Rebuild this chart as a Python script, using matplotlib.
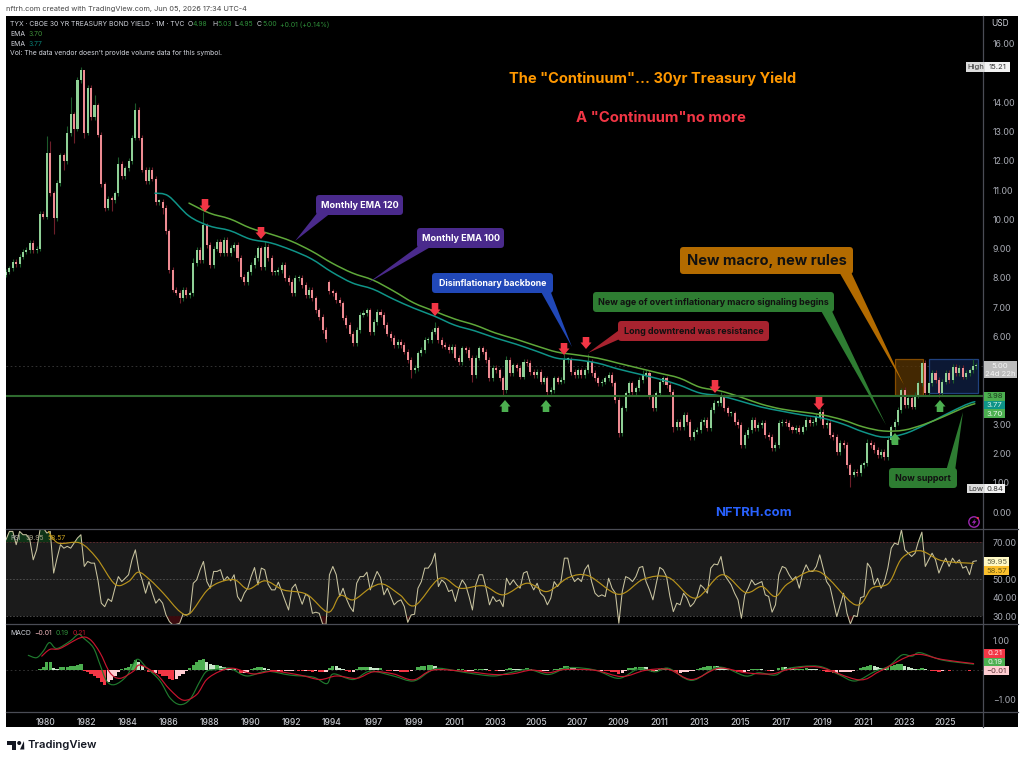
import numpy as np
import matplotlib
matplotlib.use("Agg")
import matplotlib.pyplot as plt
from matplotlib.patches import FancyBboxPatch, Polygon, Rectangle, Circle, PathPatch
from matplotlib.path import Path

plt.rcParams['font.family'] = ['Inter', 'DejaVu Sans']

W, H = 1024, 762

# 30-year yield, one candle per two months; first candle sits at bar -23.5
closes = [8.21,8.33,8.56,8.48,8.73,8.90,8.96,9.21,8.95,9.0,
 10.2,10.1,12.27,10.9,10.05,11.25,12.2,12.0,12.96,13.6,
 13.1,14.77,15.1,12.97,14.5,13.5,13.9,12.9,11.2,10.4,
 10.7,10.67,10.9,11.9,11.47,11.75,12.0,12.8,13.75,12.8,
 11.7,11.3,11.7,11.4,10.6,10.6,10.4,9.6,8.27,7.6,
 7.5,7.3,7.6,7.42,7.48,8.5,8.96,8.6,9.8,9.13,
 8.44,9.0,9.23,8.85,9.3,8.85,9.03,9.13,8.68,8.04,
 7.86,8.2,8.44,8.68,9.02,8.38,9.06,8.68,8.2,8.2,
 8.27,8.44,8.0,7.86,7.48,8.0,8.0,7.76,7.42,7.6,
 7.3,6.9,6.67,6.22,5.9,7.55,7.48,7.25,7.14,6.64,
 6.39,6.1,5.77,6.22,6.74,6.8,6.9,6.15,6.5,6.84,
 6.74,6.39,6.1,5.95,5.71,5.82,5.71,5.48,5.2,4.85,
 4.92,5.43,5.54,5.88,5.88,6.16,6.28,5.88,5.71,5.65,
 5.54,5.65,5.27,5.13,5.6,5.54,5.27,4.68,5.27,5.6,
 5.48,5.2,4.57,4.92,4.85,4.57,4.17,5.2,4.75,5.02,
 4.92,4.63,5.13,5.09,4.79,4.68,4.79,4.45,4.57,4.11,
 4.17,4.57,4.45,4.51,5.2,5.2,4.79,4.68,4.85,4.68,
 4.85,5.13,4.75,4.57,4.4,4.45,4.57,4.68,4.4,3.83,
 2.7,3.55,4.06,4.4,4.1,4.23,4.51,4.68,4.75,3.94,
 3.55,4.06,4.45,4.57,4.34,4.1,2.9,3.08,2.9,3.32,
 3.08,2.56,2.74,2.8,3.08,3.15,2.87,3.49,3.73,3.73,
 3.93,3.55,3.38,3.38,3.08,2.97,2.29,2.63,2.8,3.15,
 2.87,2.97,3.04,2.63,2.56,2.19,2.29,3.04,3.08,3.04,
 2.9,2.8,2.87,2.74,2.9,3.15,3.04,3.08,3.25,3.42,
 2.97,3.04,2.63,2.56,2.05,2.36,2.29,1.6,1.27,1.37,
 1.33,1.6,1.67,2.36,2.29,2.12,1.95,2.05,1.88,2.46,
 2.9,3.08,3.49,4.17,3.66,3.9,3.6,4.0,4.4,5.09,
 4.06,4.4,4.75,4.51,4.06,4.45,4.75,4.51,4.96,4.75,
 4.92,4.63,4.75,4.85,4.99,5.0]

# Candles whose wicks stand out from the usual short ones
long_highs = {12:12.85,13:12.7,18:13.2,19:14.2,22:15.21,23:14.8,26:14.25,33:12.15,38:13.97,
              55:8.7,58:10.26,76:9.25,126:6.5,147:5.33,164:5.4,171:5.4,187:4.85,210:4.1,
              239:3.6,253:2.5,263:4.24,269:5.13,284:5.23}
long_lows = {14:9.5,17:11.7,20:12.6,23:12.8,29:10.3,31:10.3,46:10.2,51:7.15,94:5.8,119:4.57,
             137:4.45,146:4.0,159:3.98,180:2.56,196:2.75,216:2.2,225:2.1,248:0.84,274:3.93}
gap_opens = {95: 7.85}

# Exponential averages on the monthly closes
ema_bars = [84,96,108,120,132,144,156,168,180,192,204,216,228,240,252,264,276,288,300,312,
            324,336,348,360,372,384,396,408,420,432,444,456,468,480,492,504,516,528,540,545.6]
ema100_head_bars = [64,72]
ema100_head = [10.9,10.80]
ema100 = [10.12,9.78,9.62,9.33,9.2,8.96,8.65,8.2,7.83,7.62,7.28,6.97,6.70,6.39,6.19,5.95,5.74,5.5,5.26,5.2,
          5.09,4.89,4.72,4.55,4.34,4.07,3.97,3.79,3.59,3.45,3.32,3.21,3.01,2.74,2.56,2.67,2.97,3.32,3.66,3.77]
ema120 = [10.56,10.22,10.02,9.71,9.5,9.26,8.92,8.51,8.17,7.93,7.56,7.15,6.87,6.6,6.39,6.12,5.91,5.68,5.47,5.37,
          5.26,5.09,4.92,4.75,4.58,4.27,4.14,3.93,3.69,3.52,3.42,3.32,3.15,2.91,2.77,2.8,3.0,3.28,3.59,3.70]
support_level = 3.98
last_price = 5.00

# RSI, same two-month spacing as the candles
rsi = [71.4,75.9,75.9,68.7,75.9,74.1,74.1,71.4,60.5,65.9,76.8,77.7,75,75.9,53.3,61.4,68.7,66.8,67.8,66.8,
 69.6,72.3,74.1,56.9,59.6,58.7,58.7,49.6,37,35.1,39.3,37.9,45.1,51.4,48.7,50.5,52.4,60.5,65.9,55.1,
 49.6,42.4,48.7,42.4,37,39.3,37,30.6,27,25.2,25.5,26.1,31,30.6,31.5,47.8,49.6,55.1,59.6,48.7,
 45.1,54.2,54.2,55.1,49.1,51.4,49.1,52.4,40.6,37.9,42.4,45.1,51.4,56.3,46.9,56,55.1,47.3,44.2,44.2,
 48.4,43.3,38.2,33.3,45.1,47.3,41.5,36.4,41.8,40.6,31.5,32.1,31.5,25.7,25.5,52.4,56.9,52.4,40.6,45.1,
 39.3,35.1,32.4,47.8,51.4,51.4,53.8,44.2,49.6,54.2,50.9,41.5,45.1,40.6,36.1,37.9,38.8,35.1,26.6,30.6,
 31,45.1,48.7,56,56,58.7,64.1,46,49.6,47.8,43.3,44.2,37.9,45.1,49.6,46.9,40.6,33.3,46.9,52.4,
 52.4,45.1,36.1,40.6,37.9,38.8,35.1,50.5,46.9,49.6,46.9,45.1,53.3,54.2,47.8,44.2,47.8,42.4,40.6,36.1,
 39.7,48.7,46,48.7,61.4,61.4,52.4,48.7,50.5,48.7,55.1,57.8,48.7,42.4,40.6,41.5,40.6,50.5,45.1,42.4,
 26.1,43.3,51.4,50.5,48.7,51.4,56.3,56.9,48.7,44.2,38.8,47.8,56.4,55.1,51.4,40.6,32.4,37,36.1,42.4,
 39.7,35.1,37,40.6,46.9,45.1,42.4,56,58.2,57.8,62.3,52.4,49.6,46.9,42.4,38.8,28.8,41.5,45.1,49.6,
 46.9,47.8,48.7,41.5,40.6,32.1,36.1,52.4,56.9,56,52.4,49.6,51.4,45.1,53.3,57.8,54.2,54.2,56.9,63.2,
 56,48.7,46,37.9,29.7,36.1,42.4,31.5,25.7,30.3,29.7,40,40.6,58.7,56,46.9,50.5,45.1,48.7,56,
 66.8,69.6,68.7,76.8,65.9,64.1,62.3,64.1,70.5,75.5,56.9,60.5,64.1,60.5,53.3,57.8,61.4,56.9,61.4,58.7,
 60.5,56,56.9,52.4,59.6,59.95]
rsi_ma_bars = [1.4,7.2,20,29.8,40.5,48.4,54.2,61.1,68.9,78.7,84.6,94.4,102.2,111,118.8,128.6,139.4,153.1,165.8,172.7,
 180.5,190.3,198.1,207.9,216.7,231.4,243.2,256.9,268.6,282.5,294.3,307,318.7,336.4,351,365.7,381.4,397,410.8,420.5,
 428.4,436.2,453.8,475.4,485.1,495,502.8,513.5,526.3,544.9]
rsi_ma = [75.9,69.6,69.6,61.4,47.3,48.7,53.8,49.6,42.4,32.4,31.5,43.7,48.4,49.6,44.6,49.1,44.2,41.8,32.1,41.1,
 38.8,45.1,47.3,41.5,35.7,50.5,45.1,46.4,41.5,47.8,43.3,50.9,51.8,41.8,50,50.9,39.7,52.4,42.8,46,
 40.6,47.8,54.2,36.1,45.1,47.8,61.4,65.4,60,58.57]

# MACD line and signal line
macd_bars = [-10.4,-5.5,-1.6,2,6.3,14.1,19,21.9,27.8,31.7,35.6,40.5,47.4,53.3,59.1,67,72.8,78.7,84.6,90.5,
 94.4,100.2,108,117.9,129.6,143.3,157,164.9,168.8,180.5,190.3,204,215.8,225.5,231.4,247.1,262.8,272.5,283.5,295.2,
 307,322.6,336.4,348.1,357.9,365.7,379.4,395.1,410.8,418.6,428.4,436.2,453.8,465.6,475.4,487.1,495,502.8,508.7,513.5,526.3,544.9]
macd_line = [.49,.41,.63,.92,.72,.97,1.2,1.08,.75,.18,-.38,-.5,-.21,.35,.07,-.38,-.95,-1.18,-1.0,-.38,
 -.05,.01,.05,-.21,-.05,-.18,-.25,-.47,-.14,-.33,-.05,-.21,-.38,-.05,.05,-.1,-.21,-.1,.01,-.16,
 .07,-.01,-.29,.03,-.07,.05,-.36,.09,-.21,-.1,-.18,.05,.12,-.16,-.38,-.05,.12,.5,.46,.58,.33,.19]
signal_bars = [-2.5,2.3,8.2,20,25.8,31.7,37.6,43.5,51.3,55.2,65,72.8,80.7,88.5,94.4,102.2,110,121.8,133.5,149.2,
 160.9,170.7,182.5,192.3,204,215.8,227.5,247.1,262.8,273.7,285.4,295.2,305,322.6,338.3,352,365.7,379.4,395.1,410.8,
 426.4,436.2,453.8,477.3,489.1,504.7,513.5,526.3,544.9]
signal_line = [.46,.69,.72,1.08,1.03,.58,-.1,-.29,-.05,.16,-.16,-.67,-1.03,-.84,-.33,-.05,.05,-.14,-.05,-.18,
 -.33,-.21,-.29,-.07,-.14,-.34,-.01,-.06,-.16,-.14,-.01,-.1,.01,-.02,-.23,-.02,.01,-.33,.05,-.1,
 -.14,.01,.09,-.34,-.07,.41,.52,.35,.21]
# Histogram starts at candle 10
hist = [.03,.1,.28,.28,.06,.03,.08,.1,.11,.12,.14,.17,.2,-.03,-.07,-.13,-.2,-.28,-.42,-.5,
 -.42,-.35,-.22,-.06,.02,.06,.1,.2,.32,.26,.12,-.02,-.08,-.12,-.1,-.15,-.2,-.22,-.3,-.33,
 -.3,-.22,-.13,-.05,.05,.15,.25,.34,.38,.28,.18,.15,.16,.14,.08,.05,.03,.02,-.02,-.1,
 -.1,-.08,.02,.07,.08,.1,.07,.02,-.03,-.04,-.03,-.06,-.05,-.05,-.03,-.02,-.04,-.05,-.03,-.04,
 -.06,-.05,-.06,-.08,-.06,.05,.14,.13,.07,.02,-.03,-.08,-.07,.03,.09,.1,.1,.08,.07,.06,
 .07,-.02,-.03,-.05,-.05,-.05,-.06,-.07,-.08,-.04,-.02,.08,.12,.13,.15,.15,.12,.04,.02,-.02,
 -.02,-.03,-.02,.01,.01,-.03,-.03,-.03,.01,.03,.04,.03,-.03,-.02,-.04,-.04,-.04,.03,.05,.04,
 .03,.02,.03,.05,.03,-.02,-.03,-.04,-.03,-.03,-.02,.03,.04,.06,.12,.13,.1,.06,.04,.03,
 .04,.04,.03,-.02,-.03,-.03,-.04,-.05,-.07,-.09,-.14,-.1,-.03,.06,.07,.08,.1,.1,.08,-.01,
 -.06,-.04,.03,.06,.06,.03,-.05,-.11,-.1,-.09,-.06,-.05,-.04,.03,.07,.09,.12,.14,.14,.13,
 .11,.06,.04,-.02,-.04,-.08,-.09,-.07,-.04,.02,.03,.03,.02,-.02,-.04,-.04,-.02,.06,.1,.08,
 .05,.03,.03,.03,.04,.05,.04,.02,.01,-.02,-.04,-.06,-.09,-.1,-.1,-.09,-.08,-.07,-.06,-.03,
 -.01,.05,.1,.14,.15,.12,.08,.06,.05,.08,.13,.17,.19,.2,.14,.1,.06,.03,.04,.06,
 .02,-.02,-.03,-.05,-.06,-.03,-.02,-.03,-.02,-.01,-.02,-.02,-.02,-.03,-.02,-.01]

# Levels whose axis labels are covered by the value tags are left out
price_ticks = [0, 1, 2, 3, 6, 7, 8, 9, 10, 11, 12, 13, 14, 16]
rsi_ticks = [30, 40, 50, 70]
macd_ticks = [-1, 1]
year_labels = ['1980','1982','1984','1986','1988','1990','1992','1994','1997','1999','2001','2003',
               '2005','2007','2009','2011','2013','2015','2017','2019','2021','2023','2025']

BAR_START = -23.5
BAR_STEP = 2
closes = np.array(closes, float)
bars = BAR_START + BAR_STEP * np.arange(len(closes))
XLIM = (-23.49, 550.4)

fig = plt.figure(figsize=(W / 100, H / 100), dpi=100, facecolor='white')


def px_axes(x0, y0, x1, y1, **kw):
    """Axes placed by its pixel box, y measured from the top of the figure."""
    return fig.add_axes([x0 / W, 1 - y1 / H, (x1 - x0) / W, (y1 - y0) / H], **kw)


def smooth(ax, xs, ys, color, lw, zorder=4):
    """Stroke a line through the points using Catmull-Rom style Bezier segments."""
    p = np.column_stack([xs, ys])
    verts, codes = [p[0]], [Path.MOVETO]
    for i in range(len(p) - 1):
        p0 = p[max(i - 1, 0)]
        p1, p2 = p[i], p[i + 1]
        p3 = p[min(i + 2, len(p) - 1)]
        verts += [p1 + (p2 - p0) / 6, p2 - (p3 - p1) / 6, p2]
        codes += [Path.CURVE4] * 3
    ax.add_patch(PathPatch(Path(verts, codes), fc='none', ec=color, lw=lw, zorder=zorder,
                           capstyle='round'))


back = px_axes(6, 16, 1018, 727)
back.set_facecolor('black')
back.set_xticks([]); back.set_yticks([])
for s in back.spines.values():
    s.set_visible(False)


def panel(y0, y1, ylim):
    ax = px_axes(6, y0, 983, y1)
    ax.set_facecolor('none')
    ax.set_xlim(*XLIM)
    ax.set_ylim(*ylim)
    ax.yaxis.tick_right()
    ax.tick_params(axis='y', length=0, labelsize=6.3, labelcolor='#a9acb5', pad=7)
    ax.set_xticks([])
    for s in ax.spines.values():
        s.set_visible(False)
    return ax


# Price panel
ax = panel(16, 529, (-0.581, 16.957))
ax.set_yticks(price_ticks)
ax.set_yticklabels([f'{v:.2f}' for v in price_ticks])

opens = np.r_[closes[0] - 0.1, closes[:-1]].copy()
for k, v in gap_opens.items():
    opens[k] = v
up = closes >= opens
BODY_UP, BODY_DN = '#8fd096', '#ee8b92'
WICK_UP, WICK_DN = '#1c5a2a', '#6e1f2a'
for k, (b, o, c, u) in enumerate(zip(bars, opens, closes, up)):
    hi = long_highs.get(k, max(o, c) + 0.09)
    lo = long_lows.get(k, min(o, c) - 0.09)
    ax.plot([b, b], [lo, hi], color=WICK_UP if u else WICK_DN, lw=0.8, zorder=2,
            solid_capstyle='butt')
ax.bar(bars, np.abs(closes - opens).clip(0.05), bottom=np.minimum(opens, closes), width=1.2,
       color=[BODY_UP if u else BODY_DN for u in up], linewidth=0, zorder=3)

smooth(ax, ema100_head_bars + ema_bars, ema100_head + ema100, '#0f9488', 1.1)
smooth(ax, ema_bars, ema120, '#5fa83a', 1.1)
ax.axhline(support_level, color='#2f6b2f', lw=1.5, zorder=5)
ax.axhline(last_price, color='#3a3a3a', lw=0.6, ls=(0, (2, 3)), zorder=1)

# RSI panel
ax_rsi = panel(529, 624, (25.7, 77.2))
ax_rsi.set_yticks(rsi_ticks)
ax_rsi.set_yticklabels([f'{v:.2f}' for v in rsi_ticks])
ax_rsi.axhspan(30, 70, color='#1b1b1b', lw=0, zorder=0)
ax_rsi.axhline(70, color='#6b2a30', lw=0.6, ls=(0, (2, 2)), zorder=1)
ax_rsi.axhline(50, color='#555555', lw=0.6, ls=(0, (2, 2)), zorder=1)
ax_rsi.axhline(30, color='#555555', lw=0.6, ls=(0, (2, 2)), zorder=1)
rsi = np.array(rsi)
ax_rsi.fill_between(bars, rsi, 30, where=rsi < 30, color='#3a0a0e', lw=0, zorder=1, interpolate=True)
ax_rsi.fill_between(bars, rsi, 70, where=rsi > 70, color='#0e3316', lw=0, zorder=1, interpolate=True)
ax_rsi.plot(bars, rsi, color='#c9c4a0', lw=0.75, zorder=3)
smooth(ax_rsi, rsi_ma_bars, rsi_ma, '#b8931c', 0.85)

# MACD panel
ax_m = panel(624, 712, (-1.43, 1.55))
ax_m.set_yticks(macd_ticks)
ax_m.set_yticklabels(['\u22121.00', '1.00'])
ax_m.axhline(0, color='#3a3a3a', lw=0.6, ls=(0, (2, 3)), zorder=1)
hist = np.array(hist)
hist_bars = bars[10:10 + len(hist)]
prev = np.r_[0, hist[:-1]]
hist_colors = ['#4caf50' if (h >= 0 and h >= p) else '#c8e6c9' if h >= 0
               else '#f23645' if h < p else '#ffcdd2' for h, p in zip(hist, prev)]
ax_m.bar(hist_bars, hist, width=1.9, color=hist_colors, linewidth=0, zorder=2)
smooth(ax_m, macd_bars, macd_line, '#1f7a2e', 0.85)
smooth(ax_m, signal_bars, signal_line, '#c8142e', 0.85)
ax_m.set_xticks(24 * np.arange(len(year_labels)))
ax_m.set_xticklabels(year_labels)
ax_m.tick_params(axis='x', length=0, labelsize=6.2, labelcolor='#c4c6cc', pad=4)
for t in ax_m.get_xticklabels():
    t.set_fontweight('medium')

# Everything below is placed by pixel on a transparent layer
ov = px_axes(0, 0, W, H)
ov.set_xlim(0, W); ov.set_ylim(H, 0)
ov.set_facecolor('none'); ov.axis('off')
ov.set_zorder(10)

# Highlight boxes behind the candles
ax.add_patch(Rectangle((895, 359), 28, 36, transform=ov.transData, fc='#5a3604', ec='#a85f00', lw=0.9, alpha=.75, zorder=1))
ax.add_patch(Rectangle((929, 359), 49, 34, transform=ov.transData, fc='#0c1834', ec='#20417f', lw=0.9, zorder=1))

# Panel separators
for y in (529, 624, 712):
    ov.plot([6, 1018], [y, y], color='#4a4c55', lw=0.9)
ov.plot([983, 983], [16, 727], color='#4a4c55', lw=0.9)

TC = '#d1d4dc'
FS = 4.9
ov.text(6, 9, 'nftrh.com created with TradingView.com, Jun 05, 2026 17:34 UTC-4', fontsize=5.3, color='#444444', va='center')
ov.text(10, 24.5, 'TYX \u00b7 CBOE 30 YR TREASURY BOND YIELD \u00b7 1M \u00b7 TVC', fontsize=FS, color=TC, va='center')
GV = '#2f8f3a'
for x, s, c in [(188, 'O', TC), (193, '4.98', GV), (212, 'H', TC), (217, '5.03', GV), (234, 'L', TC), (239, '4.95', GV),
                (257, 'C', TC), (262, '5.00', GV), (280, '+0.01 (+0.14%)', GV)]:
    ov.text(x, 24.5, s, fontsize=FS, color=c, va='center')
ov.text(10, 34, 'EMA', fontsize=FS, color=TC, va='center')
ov.text(29, 34, '3.70', fontsize=FS, color='#3f8f3a', va='center')
ov.text(10, 44, 'EMA', fontsize=FS, color=TC, va='center')
ov.text(29, 44, '3.77', fontsize=FS, color='#0b7f75', va='center')
ov.text(10, 53.5, "Vol: The data vendor doesn't provide volume data for this symbol.", fontsize=FS, color=TC, va='center')
ov.text(1000, 24, 'USD', fontsize=6, color=TC, va='center', ha='center')

ov.text(10, 538.5, 'RSI', fontsize=FS, color='#a8a8a8', va='center')
ov.text(25, 538.5, '59.95', fontsize=FS, color='#a8a48a', va='center')
ov.text(47, 538.5, '58.57', fontsize=FS, color='#c79f1f', va='center')
ov.text(10, 633, 'MACD', fontsize=FS, color=TC, va='center')
ov.text(34, 633, '\u22120.01', fontsize=FS, color='#f0b8bd', va='center')
ov.text(56, 633, '0.19', fontsize=FS, color='#2f8f3a', va='center')
ov.text(73, 633, '0.21', fontsize=FS, color='#c8142e', va='center')

# Headline notes
ov.text(653, 79, 'The "Continuum"... 30yr Treasury Yield', fontsize=10.55, color='#ff9800', weight='bold', ha='center', va='center')
ov.text(660.5, 118, 'A "Continuum"no more', fontsize=10.7, color='#f23645', weight='bold', ha='center', va='center')
ov.text(753.5, 513, 'NFTRH.com', fontsize=9.4, color='#2962ff', weight='bold', ha='center', va='center')


def callout(x0, y0, x1, y1, tail, text, fill, tc, fs, weight='bold'):
    ov.add_patch(Polygon(tail, closed=True, fc=fill, ec='none', zorder=3))
    ov.add_patch(FancyBboxPatch((x0 + 3, y0 + 3), x1 - x0 - 6, y1 - y0 - 6, boxstyle='round,pad=3,rounding_size=3.5',
                                fc=fill, ec='none', zorder=3))
    ov.text((x0 + x1) / 2, (y0 + y1) / 2 + 0.3, text, fontsize=fs, color=tc, weight=weight, ha='center', va='center', zorder=4)


PURPLE, BLUE, GREEN, RED, ORANGE = '#4a2a8c', '#2148b8', '#2e7d32', '#a8232f', '#b36b00'
callout(316, 195, 403, 215, [(318, 212), (332, 212), (295, 241)], 'Monthly EMA 120', PURPLE, '#ffffff', 6.55)
callout(417, 228, 504, 248, [(420, 245), (434, 245), (368, 283)], 'Monthly EMA 100', PURPLE, '#ffffff', 6.55)
callout(432, 273, 553, 293, [(550, 290), (540, 290), (572, 347)], 'Disinflationary backbone', BLUE, '#ffffff', 6.35)
callout(593, 292, 834, 312, [(831, 309), (820, 309), (886, 425)], 'New age of overt inflationary macro signaling begins', GREEN, '#111111', 6.45)
callout(618, 321, 769, 341, [(622, 328), (622, 338), (588, 353)], 'Long downtrend was resistance', RED, '#111111', 6.45)
callout(680, 247, 853, 274, [(850, 270), (838, 270), (904, 385)], 'New macro, new rules', ORANGE, '#111111', 10.55)
callout(889, 468, 957, 488, [(955, 471), (946, 471), (963, 412)], 'Now support', GREEN, '#111111', 6.4)


def arrow(x, top, tip, color):
    """Block arrow from its tail at `top` to its point at `tip`."""
    sgn = 1 if tip > top else -1
    neck = tip - sgn * 6.5
    ov.add_patch(Polygon([(x - 3.3, top), (x + 3.3, top), (x + 3.3, neck), (x + 5.5, neck), (x, tip),
                          (x - 5.5, neck), (x - 3.3, neck)], closed=True, fc=color, ec='none', zorder=5))


for x, a, b in [(205, 199, 212), (261, 227, 239), (435, 303, 316), (564, 343, 355), (586, 337, 349), (715, 380, 393), (819, 397, 410)]:
    arrow(x, a, b, '#f23645')
for x, a, b in [(505, 412, 400), (546, 412, 400), (895, 445, 433), (940, 412, 400)]:
    arrow(x, a, b, '#4caf50')

TAG = 5.5


def tag(x0, y0, x1, y1, text, fc, tc):
    ov.add_patch(Rectangle((x0, y0), x1 - x0, y1 - y0, fc=fc, ec='none', zorder=6))
    ov.text((x0 + x1) / 2, (y0 + y1) / 2 + 0.2, text, fontsize=TAG, color=tc, ha='center', va='center', zorder=7)


tag(966, 62, 985, 72, 'High', '#dcdcdc', '#333333')
tag(985, 62, 1010, 72, '15.21', '#f2f2f2', '#333333')
tag(967, 484, 985, 493, 'Low', '#dcdcdc', '#333333')
tag(985, 484, 1005, 493, '0.84', '#f2f2f2', '#333333')
ov.add_patch(Rectangle((984, 361), 33, 17, fc='#bdbdbd', ec='none', zorder=6))
ov.text(1000, 366, '5.00', fontsize=TAG, color='#f5f5f5', ha='center', va='center', zorder=7)
ov.text(1000, 373.5, '24d 22h', fontsize=TAG, color='#f5f5f5', ha='center', va='center', zorder=7)
tag(984, 392, 1005, 400.5, '3.98', '#4caf50', '#1d3b1f')
tag(984, 400.5, 1005, 409, '3.77', '#0d9488', '#d8f0ec')
tag(984, 409, 1005, 418, '3.70', '#4caf50', '#e8f5e9')
tag(984, 557, 1009, 566, '59.95', '#fff9c4', '#6b6a4a')
tag(984, 566, 1009, 575, '58.57', '#fbc02d', '#6b5a10')
tag(984, 649, 1005, 657.5, '0.21', '#f23645', '#ffe4e6')
tag(984, 657.5, 1005, 666, '0.19', '#4caf50', '#e8f5e9')
tag(984, 666, 1009, 675, '\u22120.01', '#ffcdd2', '#5a3035')

# Alert badge near the axis corner
ov.add_patch(Circle((974, 522), 5.2, fc='none', ec='#9c27b0', lw=1.0, zorder=6))
ov.add_patch(Polygon([(975.5, 518.5), (971.8, 522.8), (974, 522.8), (972.8, 525.8), (976.5, 521.2), (974.3, 521.2)],
                     closed=True, fc='#9c27b0', ec='none', zorder=6))
ov.add_patch(Circle((977.8, 518), 1.1, fc='#f23645', ec='none', zorder=7))

# Wordmark under the chart
LOGO = '#131722'
ov.add_patch(Polygon([(7, 741), (16, 741), (16, 749.5), (11.5, 749.5), (11.5, 745), (7, 745)], closed=True, fc=LOGO, ec='none'))
ov.add_patch(Circle((19.2, 743), 2.0, fc=LOGO, ec='none'))
ov.add_patch(Polygon([(20, 749.5), (24.3, 749.5), (24, 741), (24, 741)], closed=True, fc=LOGO, ec='none'))
ov.text(28, 745, 'TradingView', fontsize=8.1, color=LOGO, weight='semibold', va='center')

fig.savefig('out.png', dpi=100, facecolor='white')
